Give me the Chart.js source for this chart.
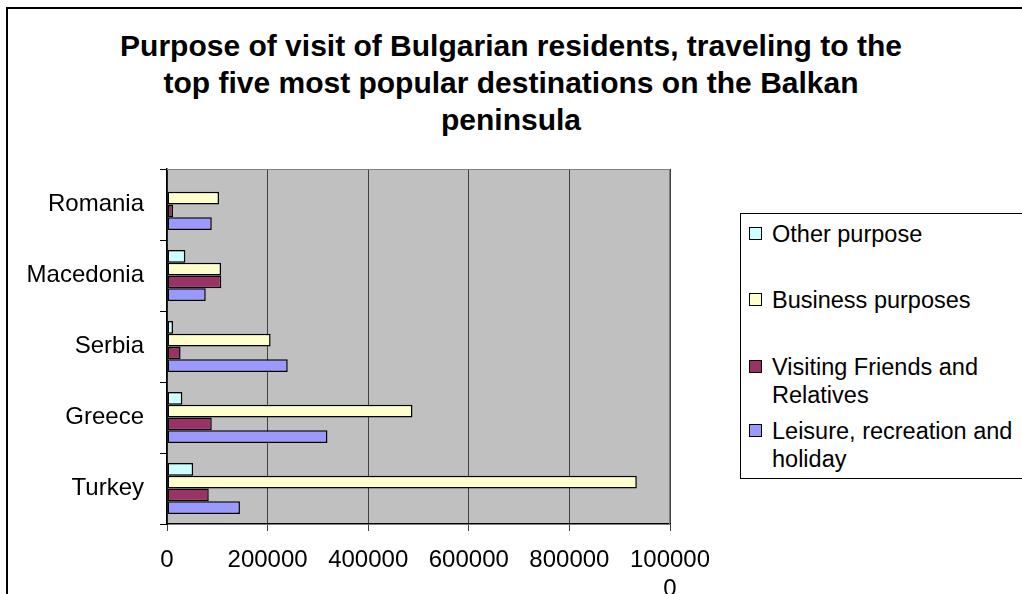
<!DOCTYPE html>
<html>
<head>
<meta charset="utf-8">
<script src="https://cdn.jsdelivr.net/npm/chart.js@4.4.1/dist/chart.umd.min.js"></script>
<style>
  body { margin: 0; width: 1022px; height: 594px; overflow: hidden; position: relative; background: #fff;
         font-family: Arial, "Liberation Sans", sans-serif; }
  #frame { position: absolute; left: 6px; top: 7px; width: 1100px; height: 700px;
           border-left: 2px solid #000; border-top: 2px solid #000; }
  #chartTitle { position: absolute; left: 0; top: 27px; width: 1022px; text-align: center;
                font-weight: bold; font-size: 30px; line-height: 37px; color: #000; }
  #legend { position: absolute; left: 740px; top: 213px; width: 320px; height: 264px; border: 1px solid #000; background: #fff; }
  .item { position: absolute; left: 0; width: 300px; font-size: 23.5px; line-height: 28px; color: #000; }
  .item .box { position: absolute; left: 8px; top: 7px; width: 11px; height: 11px; border: 1px solid #000; }
  .item .txt { position: absolute; left: 31px; top: 0; width: 252px; }
  canvas { position: absolute; left: 0; top: 0; }
</style>
</head>
<body>
<div id="frame"></div>
<div id="chartTitle"></div>
<canvas id="chart" width="1022" height="594"></canvas>
<div id="legend"></div>
<script>
// chart text and values
const titleLines = [
  'Purpose of visit of Bulgarian residents, traveling to the',
  'top five most popular destinations on the Balkan',
  'peninsula'
];
const countries = ['Romania', 'Macedonia', 'Serbia', 'Greece', 'Turkey'];

const otherPurpose = [null, 36500, 12000, 30500, 52000];
const businessPurposes = [103500, 107500, 206000, 488000, 934000];
const visitingFriends = [12000, 108000, 27000, 89000, 83000];
const leisureHoliday = [89000, 77000, 240000, 319000, 145000];

const seriesNames = ['Other purpose', 'Business purposes', 'Visiting Friends and Relatives', 'Leisure, recreation and holiday'];
const seriesColors = ['#CCFFFF', '#FFFFCC', '#993366', '#9999FF'];
const xTicks = [0, 200000, 400000, 600000, 800000, 1000000];

// title
document.getElementById('chartTitle').innerHTML = titleLines.join('<br>');

// legend (drawn as html so the long names can wrap like the original)
const legendTops = [6, 72, 139, 203];
const legend = document.getElementById('legend');
seriesNames.forEach((name, i) => {
  const item = document.createElement('div');
  item.className = 'item';
  item.style.top = legendTops[i] + 'px';
  item.innerHTML = '<span class="box" style="background:' + seriesColors[i] + '"></span><span class="txt">' + name + '</span>';
  legend.appendChild(item);
});

// grey plot background plus thin border on top / right
const plotBackground = {
  id: 'plotBackground',
  beforeDraw(chart) {
    const { ctx, chartArea } = chart;
    ctx.save();
    ctx.fillStyle = '#C0C0C0';
    ctx.fillRect(chartArea.left, chartArea.top, chartArea.right - chartArea.left, chartArea.bottom - chartArea.top);
    ctx.restore();
  },
  afterDatasetsDraw(chart) {
    const { ctx, chartArea } = chart;
    ctx.save();
    ctx.strokeStyle = '#808080';
    ctx.lineWidth = 1;
    ctx.beginPath();
    ctx.moveTo(chartArea.left, chartArea.top + 0.5);
    ctx.lineTo(chartArea.right - 0.5, chartArea.top + 0.5);
    ctx.lineTo(chartArea.right - 0.5, chartArea.bottom);
    ctx.stroke();
    ctx.restore();
  }
};

const seriesValues = [otherPurpose, businessPurposes, visitingFriends, leisureHoliday];

const ctx = document.getElementById('chart').getContext('2d');
const myChart = new Chart(ctx, {
  type: 'bar',
  data: {
    labels: countries,
    datasets: seriesNames.map((name, i) => ({
      label: name,
      data: seriesValues[i],
      backgroundColor: seriesColors[i],
      borderColor: '#000',
      borderWidth: 1.5,
      borderSkipped: false,
      categoryPercentage: 0.72,
      barPercentage: 1.0
    }))
  },
  options: {
    indexAxis: 'y',
    responsive: false,
    animation: false,
    layout: { padding: { top: 169, right: 352, left: 0, bottom: 0 } },
    plugins: {
      legend: { display: false },
      title: { display: false },
      tooltip: { enabled: false }
    },
    scales: {
      x: {
        min: 0,
        max: 1000000,
        afterBuildTicks: scale => { scale.ticks = xTicks.map(v => ({ value: v })); },
        afterFit: scale => { scale.height = 70; },
        grid: { color: '#404040', lineWidth: 1, tickLength: 7, drawTicks: true },
        border: { color: '#000', width: 1.5 },
        ticks: {
          color: '#000',
          padding: 15,
          maxRotation: 0,
          autoSkip: false,
          font: { family: 'Arial, "Liberation Sans", sans-serif', size: 24, lineHeight: 1.2 },
          // the widest label wraps onto two lines in the original
          callback: v => v === 1000000 ? ['100000', '0'] : String(v)
        }
      },
      y: {
        afterFit: scale => { scale.width = 167; },
        grid: { drawOnChartArea: false, drawTicks: true, tickLength: 7, color: '#000', offset: true },
        border: { color: '#000', width: 1.5 },
        ticks: {
          color: '#000',
          padding: 16,
          font: { family: 'Arial, "Liberation Sans", sans-serif', size: 24 }
        }
      }
    }
  },
  plugins: [plotBackground]
});
</script>
</body>
</html>
